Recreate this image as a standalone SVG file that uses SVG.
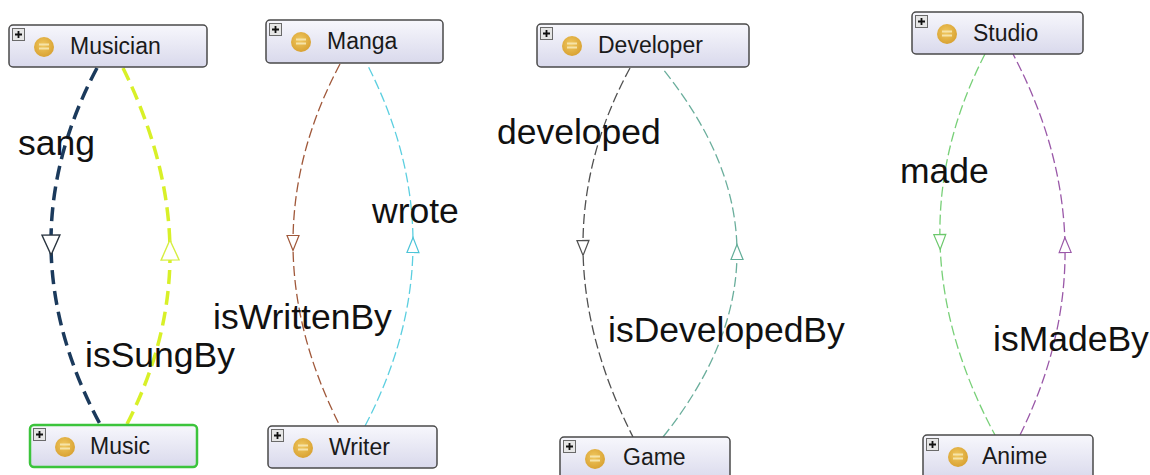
<svg xmlns="http://www.w3.org/2000/svg" width="1150" height="475" viewBox="0 0 1150 475">
<defs>
  <linearGradient id="nodeFill" x1="0" y1="0" x2="0" y2="1">
    <stop offset="0" stop-color="#f7f7fc"/>
    <stop offset="1" stop-color="#d9d9ec"/>
  </linearGradient>
  <radialGradient id="iconFill" cx="0.45" cy="0.4" r="0.6">
    <stop offset="0" stop-color="#f0c860"/>
    <stop offset="1" stop-color="#d9a232"/>
  </radialGradient>
  <g id="icons">
    <rect x="3.5" y="3.5" width="12" height="12" fill="#e6e6e6" stroke="#6a6a6a" stroke-width="1"/>
    <path d="M6 9.5 H13 M9.5 6 V13" stroke="#111" stroke-width="1.8"/>
    <circle cx="35" cy="22" r="10" fill="url(#iconFill)"/>
    <path d="M30 19.5 H40 M30 23.5 H40" stroke="#f6e3a8" stroke-width="2"/>
  </g>
  <marker id="mSang" viewBox="0 0 22 20" refX="11" refY="10" markerWidth="22" markerHeight="20" markerUnits="userSpaceOnUse" orient="auto"><path d="M1,1 L21,10 L1,19 z" fill="#fff" stroke="#2a3540" stroke-width="1.4"/></marker>
  <marker id="mSung" viewBox="0 0 22 20" refX="11" refY="10" markerWidth="22" markerHeight="20" markerUnits="userSpaceOnUse" orient="auto"><path d="M1,1 L21,10 L1,19 z" fill="#fff" stroke="#d6ee40" stroke-width="1.4"/></marker>
  <marker id="mBrown" viewBox="0 0 17 14" refX="8.5" refY="7" markerWidth="17" markerHeight="14" markerUnits="userSpaceOnUse" orient="auto"><path d="M1,1 L16,7 L1,13 z" fill="#fff" stroke="#a0583a" stroke-width="1.2"/></marker>
  <marker id="mCyan" viewBox="0 0 17 14" refX="8.5" refY="7" markerWidth="17" markerHeight="14" markerUnits="userSpaceOnUse" orient="auto"><path d="M1,1 L16,7 L1,13 z" fill="#fff" stroke="#4cc4d8" stroke-width="1.2"/></marker>
  <marker id="mGray" viewBox="0 0 17 14" refX="8.5" refY="7" markerWidth="17" markerHeight="14" markerUnits="userSpaceOnUse" orient="auto"><path d="M1,1 L16,7 L1,13 z" fill="#fff" stroke="#505050" stroke-width="1.2"/></marker>
  <marker id="mTeal" viewBox="0 0 17 14" refX="8.5" refY="7" markerWidth="17" markerHeight="14" markerUnits="userSpaceOnUse" orient="auto"><path d="M1,1 L16,7 L1,13 z" fill="#fff" stroke="#62ad98" stroke-width="1.2"/></marker>
  <marker id="mGreen" viewBox="0 0 17 14" refX="8.5" refY="7" markerWidth="17" markerHeight="14" markerUnits="userSpaceOnUse" orient="auto"><path d="M1,1 L16,7 L1,13 z" fill="#fff" stroke="#6cc86c" stroke-width="1.2"/></marker>
  <marker id="mPurple" viewBox="0 0 17 14" refX="8.5" refY="7" markerWidth="17" markerHeight="14" markerUnits="userSpaceOnUse" orient="auto"><path d="M1,1 L16,7 L1,13 z" fill="#fff" stroke="#9a58a8" stroke-width="1.2"/></marker>
</defs>
<style>
  .box { fill: url(#nodeFill); stroke: #4a4a4a; stroke-width: 1.5; }
  .sel { stroke: #3cc43c; stroke-width: 2.5; }
  .ntext { font-family: "Liberation Sans", Arial, sans-serif; font-size: 23px; fill: #1a1a1a; }
  .edge { fill: none; }
  .thick { stroke-width: 3.5; stroke-dasharray: 14 7; }
  .thin { stroke-width: 1.3; stroke-dasharray: 10 4; }
  .label { font-family: "Liberation Sans", Arial, sans-serif; font-size: 35.5px; fill: #111; }
</style>
<rect width="1150" height="475" fill="#ffffff"/>

<g id="connectors">
  <g id="e-sang">
    <path class="edge thick" stroke="#1b3a5c" marker-mid="url(#mSang)" d="M97,68 Q50.25,156 51,245 Q51.75,334 100,424"/>
    <text class="label" x="18" y="155">sang</text>
  </g>
  <g id="e-isSungBy">
    <path class="edge thick" stroke="#d8f028" marker-mid="url(#mSung)" d="M127,424 Q171,338.5 170,250 Q169,161.5 123,68"/>
    <text class="label" x="85" y="367">isSungBy</text>
  </g>
  <g id="e-isWrittenBy">
    <path class="edge thin" stroke="#a0583a" marker-mid="url(#mBrown)" d="M340,64 Q293,152.5 293,243 Q293,333.5 340,426"/>
    <text class="label" x="213" y="329">isWrittenBy</text>
  </g>
  <g id="e-wrote">
    <path class="edge thin" stroke="#5ccfe0" marker-mid="url(#mCyan)" d="M365,426 Q412.5,335.25 413,245 Q413.5,154.75 367,64"/>
    <text class="label" x="372" y="223">wrote</text>
  </g>
  <g id="e-developed">
    <path class="edge thin" stroke="#505050" marker-mid="url(#mGray)" d="M630,68 Q582.25,156 583,248 Q583.75,340 633,437"/>
    <text class="label" x="497" y="144">developed</text>
  </g>
  <g id="e-isDevelopedBy">
    <path class="edge thin" stroke="#6aae9c" marker-mid="url(#mTeal)" d="M663,437 Q737.25,344 737,252 Q736.75,160 662,68"/>
    <text class="label" x="608" y="342">isDevelopedBy</text>
  </g>
  <g id="e-made">
    <path class="edge thin" stroke="#78d078" marker-mid="url(#mGreen)" d="M985,54 Q937.5,146.5 940,242 Q942.5,337.5 995,435"/>
    <text class="label" x="900" y="183">made</text>
  </g>
  <g id="e-isMadeBy">
    <path class="edge thin" stroke="#9a58a8" marker-mid="url(#mPurple)" d="M1020,435 Q1066.75,340.5 1065,245 Q1063.25,149.5 1013,54"/>
    <text class="label" x="993" y="351">isMadeBy</text>
  </g>
</g>

<g id="node-musician" transform="translate(9,25)">
  <rect class="box" width="198" height="42" rx="4"/>
  <use href="#icons"/>
  <text class="ntext" x="61" y="29">Musician</text>
</g>
<g id="node-music" transform="translate(30,425)">
  <rect class="box sel" width="167" height="42" rx="4"/>
  <use href="#icons"/>
  <text class="ntext" x="60" y="29">Music</text>
</g>
<g id="node-manga" transform="translate(266,20)">
  <rect class="box" width="177" height="43" rx="4"/>
  <use href="#icons"/>
  <text class="ntext" x="61" y="29">Manga</text>
</g>
<g id="node-writer" transform="translate(268,426)">
  <rect class="box" width="169" height="42" rx="4"/>
  <use href="#icons"/>
  <text class="ntext" x="61" y="29">Writer</text>
</g>
<g id="node-developer" transform="translate(537,24)">
  <rect class="box" width="212" height="43" rx="4"/>
  <use href="#icons"/>
  <text class="ntext" x="61" y="29">Developer</text>
</g>
<g id="node-game" transform="translate(560,437)">
  <rect class="box" width="170" height="45" rx="4"/>
  <use href="#icons"/>
  <text class="ntext" x="63" y="28">Game</text>
</g>
<g id="node-studio" transform="translate(912,12)">
  <rect class="box" width="171" height="42" rx="4"/>
  <use href="#icons"/>
  <text class="ntext" x="61" y="29">Studio</text>
</g>
<g id="node-anime" transform="translate(923,435)">
  <rect class="box" width="170" height="45" rx="4"/>
  <use href="#icons"/>
  <text class="ntext" x="59" y="29">Anime</text>
</g>
</svg>
